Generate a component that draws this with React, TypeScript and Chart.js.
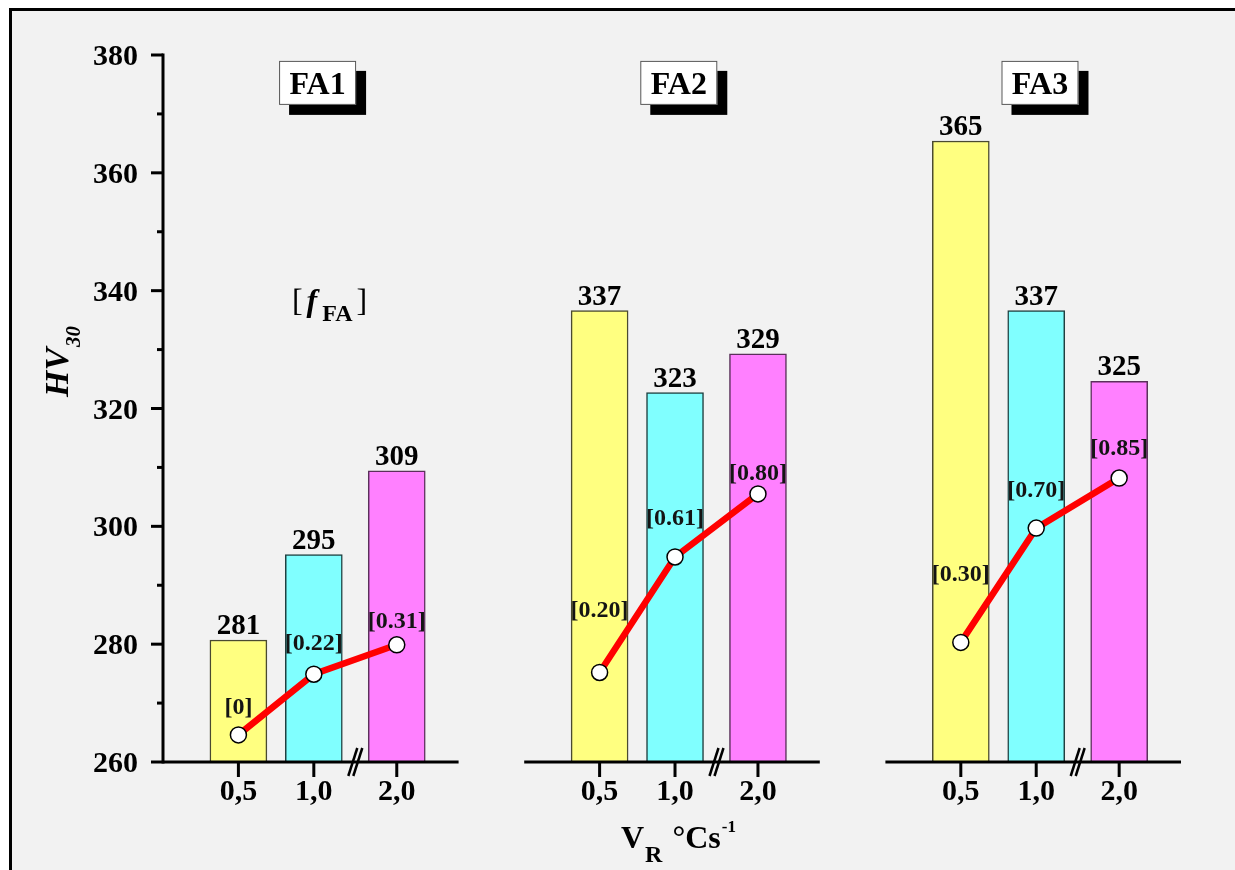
import React, { useEffect, useRef } from "react";
import { Chart, registerables } from "chart.js";

Chart.register(...registerables);

// ---------- data ----------
const groups = ["FA1", "FA2", "FA3"];
const coolingRates = ["0,5", "1,0", "2,0"];
const hvFA1 = [280.7, 295.2, 309.4];
const hvFA2 = [336.6, 322.7, 329.3];
const hvFA3 = [365.4, 336.6, 324.6];
const ffaPosFA1 = [264.6, 274.9, 279.9];
const ffaPosFA2 = [275.2, 294.8, 305.5];
const ffaPosFA3 = [280.3, 299.7, 308.2];
const ffaFA1 = ["[0]", "[0.22]", "[0.31]"];
const ffaFA2 = ["[0.20]", "[0.61]", "[0.80]"];
const ffaFA3 = ["[0.30]", "[0.70]", "[0.85]"];
const hvTicks = [260, 280, 300, 320, 340, 360, 380];
const hvMinorTicks = [270, 290, 310, 330, 350, 370];
const Y_MIN = 260;
const Y_MAX = 380;

// ---------- layout / style ----------
const hvByGroup = [hvFA1, hvFA2, hvFA3];
const ffaPosByGroup = [ffaPosFA1, ffaPosFA2, ffaPosFA3];
const ffaByGroup = [ffaFA1, ffaFA2, ffaFA3];
const SLOT = [1.0, 2.0, 3.1];
const GROUP_W = 3.92;
const STRIDE = 4.79;
const BREAK_AT = 2.55;
const X_MAX = 2 * STRIDE + GROUP_W;
const ffaLift = [
  [27, 30, 23],
  [62, 38, 20],
  [68, 37, 29],
];
const barColors = ["#ffff80", "#80ffff", "#ff80ff"];
const barBorders = ["#4a4a30", "#204040", "#5a305a"];
const FONT = "'Liberation Serif', 'Times New Roman', serif";

const decor = {
  id: "decor",
  beforeDraw(chart: any) {
    const { ctx, width, height } = chart;
    ctx.save();
    ctx.fillStyle = "#ffffff";
    ctx.fillRect(0, 0, width, height);
    ctx.fillStyle = "#f2f2f2";
    ctx.fillRect(12, 11, width - 12, height - 11);
    ctx.fillStyle = "#000";
    ctx.fillRect(9, 8, width - 9, 3);
    ctx.fillRect(9, 8, 3, height - 8);
    ctx.restore();
  },
  afterDatasetsDraw(chart: any) {
    const { ctx } = chart;
    const xs = chart.scales.x;
    const ys = chart.scales.y;
    const px = (v: number) => xs.getPixelForValue(v);
    const py = (v: number) => ys.getPixelForValue(v);
    const x0 = px(0);
    const yTop = py(Y_MAX);
    const yBot = py(Y_MIN);
    ctx.save();
    ctx.strokeStyle = "#000";
    ctx.fillStyle = "#000";
    ctx.lineWidth = 3;
    ctx.lineCap = "butt";

    // y axis
    ctx.beginPath();
    ctx.moveTo(x0, yTop - 1.5);
    ctx.lineTo(x0, yBot + 1.5);
    ctx.stroke();
    hvTicks.forEach((t) => {
      const y = py(t);
      ctx.beginPath();
      ctx.moveTo(x0 - 12, y);
      ctx.lineTo(x0, y);
      ctx.stroke();
      ctx.font = `bold 30px ${FONT}`;
      ctx.textAlign = "right";
      ctx.textBaseline = "alphabetic";
      ctx.fillText(String(t), x0 - 25, y + 10);
    });
    hvMinorTicks.forEach((t) => {
      const y = py(t);
      ctx.beginPath();
      ctx.moveTo(x0 - 6, y);
      ctx.lineTo(x0, y);
      ctx.stroke();
    });

    // x axis segments
    groups.forEach((g, gi) => {
      const base = gi * STRIDE;
      ctx.lineWidth = 3;
      ctx.beginPath();
      ctx.moveTo(px(base), yBot);
      ctx.lineTo(px(base + GROUP_W), yBot);
      ctx.stroke();
      SLOT.forEach((s, r) => {
        const x = px(base + s);
        ctx.beginPath();
        ctx.moveTo(x, yBot);
        ctx.lineTo(x, yBot + 15);
        ctx.stroke();
        ctx.font = `bold 30px ${FONT}`;
        ctx.textAlign = "center";
        ctx.textBaseline = "alphabetic";
        ctx.fillText(coolingRates[r], x, yBot + 38);
      });
      // break marks
      const bx = px(base + BREAK_AT);
      ctx.lineWidth = 2.5;
      [-2.5, 2.5].forEach((d) => {
        ctx.beginPath();
        ctx.moveTo(bx + d - 4.5, yBot + 14);
        ctx.lineTo(bx + d + 4.5, yBot - 14);
        ctx.stroke();
      });

      // bar value labels
      ctx.font = `bold 29px ${FONT}`;
      ctx.textAlign = "center";
      ctx.textBaseline = "alphabetic";
      for (let r = 0; r < 3; r++) {
        const el = chart.getDatasetMeta(r).data[gi];
        ctx.fillText(String(Math.round(hvByGroup[gi][r])), el.x, el.y - 6);
      }

      // f_FA labels
      const lm = chart.getDatasetMeta(3 + gi);
      ctx.font = `bold 24px ${FONT}`;
      ctx.fillStyle = "#141414";
      ctx.textBaseline = "middle";
      lm.data.forEach((pt: any, r: number) => {
        ctx.fillText(ffaByGroup[gi][r], pt.x, pt.y - ffaLift[gi][r]);
      });
      ctx.fillStyle = "#000";

      // group label box
      const cx = px(base + 2.05);
      const bw = 77;
      const bh = 44;
      const top = py(379);
      ctx.fillStyle = "#000";
      ctx.fillRect(cx - bw / 2 + 10, top + 10, bw, bh);
      ctx.fillStyle = "#fff";
      ctx.fillRect(cx - bw / 2, top, bw, bh);
      ctx.strokeStyle = "#555";
      ctx.lineWidth = 1;
      ctx.strokeRect(cx - bw / 2 + 0.5, top + 0.5, bw - 1, bh - 1);
      ctx.strokeStyle = "#000";
      ctx.fillStyle = "#000";
      ctx.font = `bold 32px ${FONT}`;
      ctx.textAlign = "center";
      ctx.textBaseline = "alphabetic";
      ctx.fillText(g, cx, top + 33);
    });

    // [f_FA] annotation
    {
      let x = px(1.71);
      const yb = py(336.5);
      ctx.textAlign = "left";
      ctx.textBaseline = "alphabetic";
      ctx.font = `32px ${FONT}`;
      ctx.fillText("[", x, yb);
      x += ctx.measureText("[").width + 4;
      ctx.font = `italic bold 32px ${FONT}`;
      ctx.fillText("f", x, yb);
      x += ctx.measureText("f").width + 5;
      ctx.font = `bold 24px ${FONT}`;
      ctx.fillText("FA", x, yb + 10);
      x += ctx.measureText("FA").width + 4;
      ctx.font = `32px ${FONT}`;
      ctx.fillText("]", x, yb);
    }

    // y title
    ctx.save();
    ctx.translate(68, 397);
    ctx.rotate(-Math.PI / 2);
    ctx.textAlign = "left";
    ctx.textBaseline = "alphabetic";
    ctx.font = `italic bold 34px ${FONT}`;
    ctx.fillText("HV", 0, 0);
    const hw = ctx.measureText("HV").width;
    ctx.font = `italic bold 21px ${FONT}`;
    ctx.fillText("30", hw + 1, 12);
    ctx.restore();

    // x title
    {
      let x = 621;
      const yb = 848;
      ctx.textAlign = "left";
      ctx.textBaseline = "alphabetic";
      ctx.font = `bold 32px ${FONT}`;
      ctx.fillText("V", x, yb);
      x += ctx.measureText("V").width + 1;
      ctx.font = `bold 24px ${FONT}`;
      ctx.fillText("R", x, yb + 14);
      x += ctx.measureText("R").width + 10;
      ctx.font = `bold 32px ${FONT}`;
      ctx.fillText("°Cs", x, yb);
      x += ctx.measureText("°Cs").width + 1;
      ctx.font = `bold 17px ${FONT}`;
      ctx.fillText("-1", x, yb - 16);
    }
    ctx.restore();
  },
};

export default function App() {
  const ref = useRef<HTMLCanvasElement>(null);
  useEffect(() => {
    const barDatasets = [0, 1, 2].map((r) => ({
      type: "bar" as const,
      label: coolingRates[r],
      data: groups.map((g, gi) => ({ x: gi * STRIDE + SLOT[r], y: hvByGroup[gi][r] })),
      backgroundColor: barColors[r],
      borderColor: barBorders[r],
      borderWidth: 1.5,
      barThickness: 57,
      grouped: false,
      order: 2,
    }));
    const lineDatasets = groups.map((g, gi) => ({
      type: "line" as const,
      label: g,
      data: SLOT.map((s, r) => ({ x: gi * STRIDE + s, y: ffaPosByGroup[gi][r] })),
      borderColor: "#ff0000",
      borderWidth: 6.5,
      pointRadius: 8,
      pointBackgroundColor: "#ffffff",
      pointBorderColor: "#000000",
      pointBorderWidth: 1.5,
      order: 1,
      clip: false as any,
    }));
    const chart = new Chart(ref.current!, {
      type: "bar",
      data: { datasets: [...barDatasets, ...lineDatasets] as any },
      options: {
        responsive: false,
        animation: false,
        layout: { padding: { left: 163, top: 55, right: 54, bottom: 108 } },
        plugins: { legend: { display: false }, tooltip: { enabled: false }, title: { display: false } },
        scales: {
          x: { type: "linear", min: 0, max: X_MAX, offset: false, display: false },
          y: { type: "linear", min: Y_MIN, max: Y_MAX, display: false },
        },
      },
      plugins: [decor],
    });
    return () => chart.destroy();
  }, []);
  return (
    <div style={{ position: "absolute", left: 0, top: 0, width: 1235, height: 870 }}>
      <canvas ref={ref} width={1235} height={870} style={{ display: "block", width: 1235, height: 870 }} />
    </div>
  );
}
